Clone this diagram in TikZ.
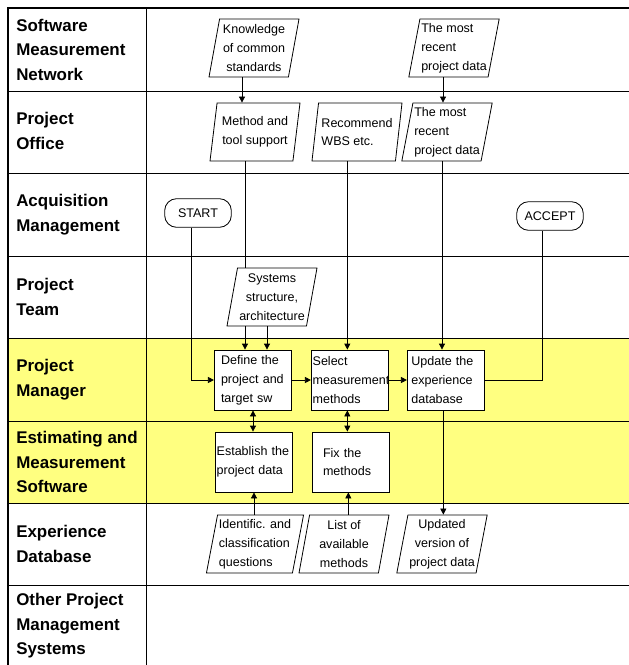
\documentclass[tikz,border=0pt]{standalone}
\usepackage{fontspec}
\setmainfont{Liberation Sans}
\usetikzlibrary{shapes.geometric,positioning,arrows.meta}
\definecolor{amarillo}{RGB}{255,255,128}
\tikzset{
	carril/.style={anchor=west, inner sep=0pt, font=\bfseries\fontsize{12.7}{18.4}\selectfont, align=left},
	datos/.style={trapezium, trapezium left angle=78, trapezium right angle=102, 
		trapezium stretches body, draw, fill=white, line width=0.6pt, 
		minimum width=67.5pt, minimum height=43.5pt, inner sep=1pt, 
		font=\fontsize{9.4}{14.2}\selectfont, align=center},
	proceso/.style={rectangle, draw, fill=white, line width=0.6pt, 
		minimum width=57.75pt, minimum height=45pt, inner sep=1pt, 
		text width=56pt, align=left, font=\fontsize{9.4}{14.2}\selectfont,
		execute at begin node={\hyphenpenalty=10000\relax}},
	terminal/.style={rectangle, rounded corners=9pt, draw, fill=white, line width=0.6pt, 
		minimum width=50pt, minimum height=21.5pt, font=\fontsize{9.4}{12}\selectfont},
	flecha/.style={line width=0.6pt, -{Triangle[length=4.5pt,width=4.5pt]}},
	doble/.style={line width=0.6pt, {Triangle[length=4.5pt,width=4.5pt]}-{Triangle[length=4.5pt,width=4.5pt]}},
	linea/.style={line width=0.6pt},
	division/.style={line width=0.75pt}
}
\begin{document}
\begin{tikzpicture}[x=0.75pt, y=-0.75pt]
	\useasboundingbox (0,0) rectangle (629,665);
	\fill[amarillo] (8,338) rectangle (629,503);
	\draw[division] (8,91) -- (629,91);
	\draw[division] (8,173) -- (629,173);
	\draw[division] (8,256) -- (629,256);
	\draw[division] (8,338) -- (629,338);
	\draw[division] (8,421) -- (629,421);
	\draw[division] (8,503) -- (629,503);
	\draw[division] (8,585) -- (629,585);
	\draw[division] (146,8) -- (146,665);
	\draw[line width=1.5pt] (8,665) -- (8,8) -- (629,8);
	
	\node[carril] (smn) at (16,49.5) {Software\\Measurement\\Network};
	\node[carril] (office) at (16,131) {Project\\Office};
	\node[carril] (acq) at (16,214.5) {Acquisition\\Management};
	\node[carril] (team) at (16,297) {Project\\Team};
	\node[carril] (manager) at (16,379.5) {Project\\Manager};
	\node[carril] (software) at (16,462) {Estimating and\\Measurement\\Software};
	\node[carril] (database) at (16,544) {Experience\\Database};
	\node[carril] (other) at (16,626) {Other Project\\Management\\Systems};
	
	\node[datos] (know) at (254,48) {Knowledge\\of common\\standards};
	\node[datos, align=left] (recent1) at (454,48) {The most\\recent\\project data};
	\node[datos] (method) at (255,132) {Method and\\tool support};
	\node[datos, align=left] (wbs) at (357,132) {Recommend\\WBS etc.};
	\node[datos, align=left] (recent2) at (447,132) {The most\\recent\\project data};
	\node[terminal] (start) at (198,213) {START};
	\node[terminal] (accept) at (550,216) {ACCEPT};
	\node[datos] (systems) at (272,297) {Systems\\structure,\\architecture};
	
	\node[proceso] (define) at (253,380) {\hspace*{4pt}Define the\\\hspace*{4pt}project and\\\hspace*{4pt}target sw};
	\node[proceso] (select) at (350,380) {Select\\measurement\\methods};
	\node[proceso] (update) at (446,380) {\hspace*{2pt}Update the\\\hspace*{2pt}experience\\\hspace*{2pt}database};
	\node[proceso] (establish) at (254,462) {Establish the\\project data};
	\node[proceso] (fix) at (351,462) {\hspace*{7pt}Fix the\\\hspace*{7pt}methods};
	
	\node[datos, align=left] (identific) at (255,544) {Identific. and\\classification\\questions};
	\node[datos] (list) at (344,544) {List of\\available\\methods};
	\node[datos] (updated) at (442,544) {Updated\\version of\\project data};
	
	\draw[flecha] ([xshift=-9pt]know.south) -- ([xshift=-9pt]know.south |- method.north);
	\draw[flecha] ([xshift=-3pt]recent2.north |- recent1.south) -- ([xshift=-3pt]recent2.north);
	\draw[linea] ([xshift=-6pt]define.north |- method.south) -- ([xshift=-6pt]define.north |- systems.north);
	\draw[flecha] ([xshift=-6pt]define.north |- systems.south) -- ([xshift=-6pt]define.north);
	\draw[flecha] ([xshift=10.5pt]define.north |- systems.south) -- ([xshift=10.5pt]define.north);
	\draw[flecha] ([xshift=-2pt]select.north |- wbs.south) -- ([xshift=-2pt]select.north);
	\draw[flecha] ([xshift=-3pt]update.north |- recent2.south) -- ([xshift=-3pt]update.north);
	\draw[flecha] ([xshift=-5pt]start.south) |- (define.west);
	\draw[flecha] (define.east) -- (select.west);
	\draw[flecha] (select.east) -- (update.west);
	\draw[linea] (update.east) -| ([xshift=-6pt]accept.south);
	\draw[doble] (define.south) -- (define.south |- establish.north);
	\draw[doble] ([xshift=-2pt]select.south) -- ([xshift=-2pt]select.south |- fix.north);
	\draw[flecha] ([xshift=-2pt]update.south) -- ([xshift=-2pt]update.south |- updated.north);
	\draw[flecha] (establish.south |- identific.north) -- (establish.south);
	\draw[flecha] ([xshift=-2pt]fix.south |- list.north) -- ([xshift=-2pt]fix.south);
\end{tikzpicture}
\end{document}
